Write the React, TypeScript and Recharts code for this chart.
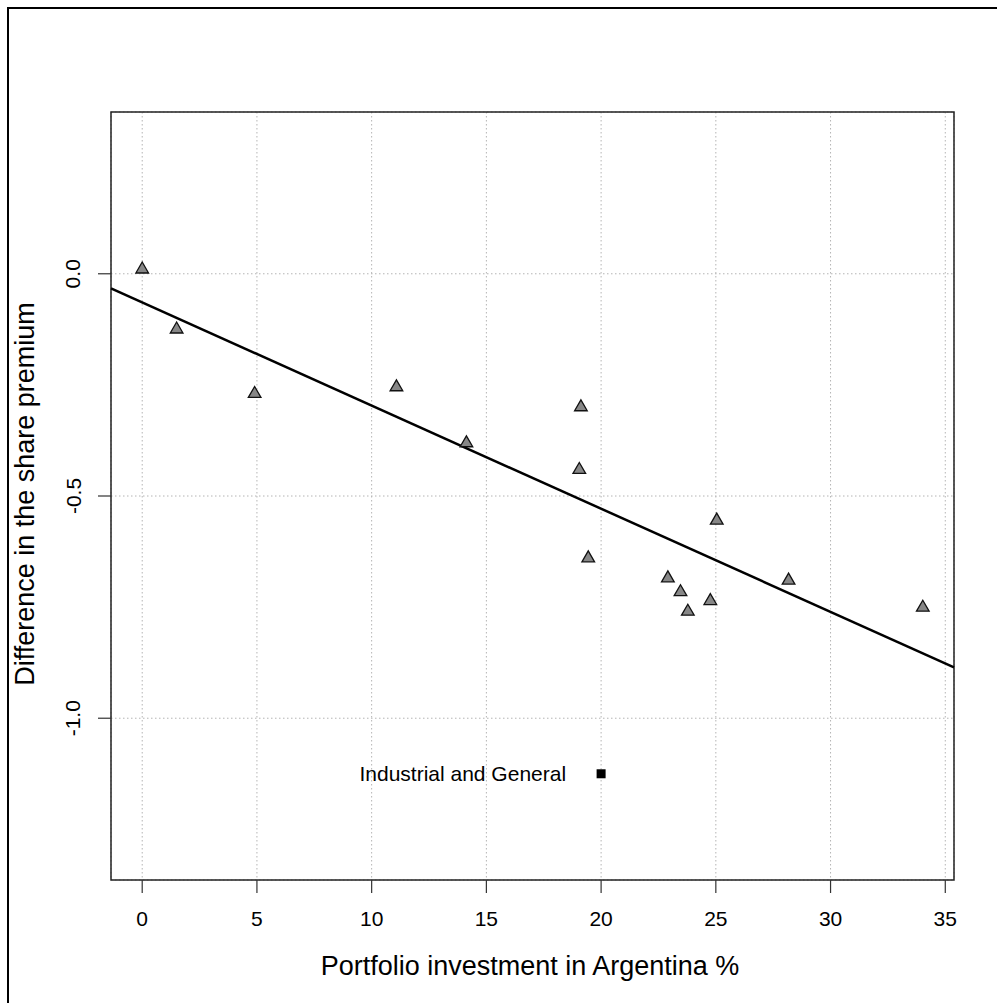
import React from "react";
import {
  ScatterChart, Scatter, XAxis, YAxis, CartesianGrid,
  ReferenceLine, ReferenceArea,
} from "recharts";

// companies: portfolio share invested in Argentina vs change in share premium
const PORTFOLIO_PCT = [0, 1.5, 4.9, 11.08, 14.13, 19.12, 19.05, 19.44, 25.04, 22.91, 23.46, 23.78, 24.76, 28.17, 34.02];
const PREMIUM_DIFF = [0.01, -0.125, -0.27, -0.255, -0.381, -0.3, -0.441, -0.64, -0.555, -0.685, -0.716, -0.76, -0.736, -0.69, -0.751];

const OUTLIER_NAME = "Industrial and General";
const OUTLIER_PCT = 20;
const OUTLIER_DIFF = -1.125;

// fitted line
const FIT_INTERCEPT = -0.0646;
const FIT_SLOPE = -0.0232;

const X_TICKS = [0, 5, 10, 15, 20, 25, 30, 35];
const Y_TICKS = [-1, -0.5, 0];
const X_MIN = -1.36;
const X_MAX = 35.38;
const Y_MIN = -1.364;
const Y_MAX = 0.364;

const FONT = "'Liberation Sans', Arial, sans-serif";

const points = PORTFOLIO_PCT.map((x, i) => ({ x, y: PREMIUM_DIFF[i] }));
const outlier = [{ x: OUTLIER_PCT, y: OUTLIER_DIFF, name: OUTLIER_NAME }];

function Triangle(props: any) {
  const { cx, cy } = props;
  const r = 7.3;
  const h = r * 0.866;
  return (
    <polygon
      points={`${cx},${cy - r} ${cx + h},${cy + r / 2} ${cx - h},${cy + r / 2}`}
      fill="#878787"
      stroke="#111"
      strokeWidth={1.3}
    />
  );
}

function SquareWithLabel(props: any) {
  const { cx, cy, payload } = props;
  return (
    <g>
      <rect x={cx - 4.5} y={cy - 4.5} width={9} height={9} fill="#000" />
      <text x={cx - 35} y={cy} textAnchor="end" dominantBaseline="central"
        fontSize={21} fontFamily={FONT} fill="#000">
        {payload.name}
      </text>
    </g>
  );
}

function XTick(props: any) {
  const { x, payload } = props;
  return (
    <text x={x} y={918} textAnchor="middle" dominantBaseline="central"
      fontSize={21} fontFamily={FONT} fill="#000">
      {payload.value}
    </text>
  );
}

function YTick(props: any) {
  const { y, payload } = props;
  return (
    <text x={73} y={y} textAnchor="middle" dominantBaseline="central"
      transform={`rotate(-90, 73, ${y})`}
      fontSize={21} fontFamily={FONT} fill="#000">
      {Number(payload.value).toFixed(1)}
    </text>
  );
}

export default function App() {
  return (
    <div style={{ position: "absolute", left: 0, top: 0, width: 997, height: 1003, background: "#fff" }}>
      <div style={{
        position: "absolute", left: 7, top: 7, width: 990, height: 996,
        borderLeft: "2px solid #000", borderTop: "2px solid #000",
      }} />
      <div style={{ position: "absolute", left: 0, top: 0 }}>
        <ScatterChart width={997} height={1003}
          margin={{ top: 112, right: 43, bottom: 0, left: 0 }}>
          <CartesianGrid stroke="#b4b4b4" strokeDasharray="1.5 2.5" />
          <XAxis type="number" dataKey="x" domain={[X_MIN, X_MAX]} ticks={X_TICKS}
            allowDataOverflow height={123} axisLine={false}
            tickLine={{ stroke: "#333", strokeWidth: 1.2 }} tickSize={13}
            tick={<XTick />}
            label={{
              content: () => (
                <text x={530} y={966} textAnchor="middle" dominantBaseline="central"
                  fontSize={27} fontFamily={FONT} fill="#000">
                  Portfolio investment in Argentina %
                </text>
              ),
            }}
          />
          <YAxis type="number" dataKey="y" domain={[Y_MIN, Y_MAX]} ticks={Y_TICKS}
            allowDataOverflow width={111} axisLine={false}
            tickLine={{ stroke: "#333", strokeWidth: 1.2 }} tickSize={13}
            tick={<YTick />}
            label={{
              content: () => (
                <text x={25} y={494} textAnchor="middle" dominantBaseline="central"
                  transform="rotate(-90, 25, 494)"
                  fontSize={27} fontFamily={FONT} fill="#000">
                  Difference in the share premium
                </text>
              ),
            }}
          />
          <ReferenceArea x1={X_MIN} x2={X_MAX} y1={Y_MIN} y2={Y_MAX}
            fill="none" fillOpacity={0} stroke="#222" strokeWidth={1.5} ifOverflow="visible" />
          <ReferenceLine
            segment={[
              { x: X_MIN, y: FIT_INTERCEPT + FIT_SLOPE * X_MIN },
              { x: X_MAX, y: FIT_INTERCEPT + FIT_SLOPE * X_MAX },
            ]}
            stroke="#000" strokeWidth={2.5} ifOverflow="visible"
          />
          <Scatter data={points} shape={<Triangle />} isAnimationActive={false} />
          <Scatter data={outlier} shape={<SquareWithLabel />} isAnimationActive={false} />
        </ScatterChart>
      </div>
    </div>
  );
}
